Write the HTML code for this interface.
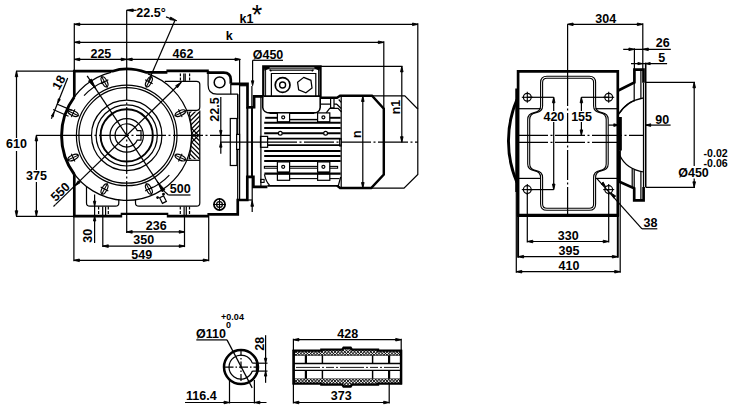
<!DOCTYPE html>
<html><head><meta charset="utf-8"><title>Gear motor dimension drawing</title>
<style>
html,body{margin:0;padding:0;background:#fff;}
body{width:738px;height:417px;overflow:hidden;}
svg{display:block;}
svg text{font-family:"Liberation Sans",Arial,Helvetica,sans-serif;font-weight:bold;fill:#000;stroke:none;}
</style></head>
<body>
<svg width="738" height="417" viewBox="0 0 738 417" fill="none" stroke="#000">
<rect x="0" y="0" width="738" height="417" fill="#fff" stroke="none" style="stroke:none"/>
<line x1="74.3" y1="23.3" x2="74.3" y2="70" stroke-width="1.22"/>
<line x1="74.3" y1="24.3" x2="418" y2="24.3" stroke-width="1.22"/>
<polygon points="74.3,24.3 79.8,23 79.8,25.6" fill="#000" stroke-width="0.9" stroke-linejoin="round"/>
<polygon points="418,24.3 412.5,25.6 412.5,23" fill="#000" stroke-width="0.9" stroke-linejoin="round"/>
<line x1="74.3" y1="42.3" x2="383.8" y2="42.3" stroke-width="1.22"/>
<polygon points="74.3,42.3 79.8,41 79.8,43.6" fill="#000" stroke-width="0.9" stroke-linejoin="round"/>
<polygon points="383.8,42.3 378.3,43.6 378.3,41" fill="#000" stroke-width="0.9" stroke-linejoin="round"/>
<line x1="74.3" y1="59.4" x2="239.5" y2="59.4" stroke-width="1.22"/>
<polygon points="74.3,59.4 79.8,58.1 79.8,60.7" fill="#000" stroke-width="0.9" stroke-linejoin="round"/>
<polygon points="126.7,59.4 121.2,60.7 121.2,58.1" fill="#000" stroke-width="0.9" stroke-linejoin="round"/>
<polygon points="126.7,59.4 132.2,58.1 132.2,60.7" fill="#000" stroke-width="0.9" stroke-linejoin="round"/>
<polygon points="240.5,59.4 235,60.7 235,58.1" fill="#000" stroke-width="0.9" stroke-linejoin="round"/>
<line x1="239.6" y1="59.4" x2="239.6" y2="200" stroke-width="1.22"/>
<line x1="383.8" y1="41.3" x2="383.8" y2="108" stroke-width="1.22"/>
<line x1="417.8" y1="23.3" x2="417.8" y2="109" stroke-width="1.22"/>
<line x1="126.7" y1="10.3" x2="126.7" y2="70" stroke-width="1.22"/>
<line x1="126.7" y1="70" x2="126.7" y2="204" stroke-width="1.22" stroke-dasharray="30 2.5 2 2.5"/>
<line x1="126.7" y1="204" x2="126.7" y2="232.9" stroke-width="1.22"/>
<line x1="126.7" y1="10.3" x2="136.5" y2="10.3" stroke-width="1.22"/>
<polygon points="126.7,10.3 133.2,9 133.2,11.6" fill="#000" stroke-width="0.9" stroke-linejoin="round"/>
<line x1="174.9" y1="20.6" x2="148.6" y2="81" stroke-width="1.22"/>
<polygon points="176.8,20.7 169.77,19.59 170.64,17.14" fill="#000" stroke-width="0.9" stroke-linejoin="round"/>
<line x1="166" y1="16.9" x2="171" y2="18.7" stroke-width="1.22"/>
<line x1="16" y1="71.2" x2="74.3" y2="71.2" stroke-width="1.22"/>
<line x1="16" y1="216.3" x2="74.3" y2="216.3" stroke-width="1.22"/>
<line x1="16.5" y1="71.2" x2="16.5" y2="138" stroke-width="1.22"/>
<line x1="16.5" y1="151" x2="16.5" y2="216.3" stroke-width="1.22"/>
<polygon points="16.5,71.2 17.8,76.7 15.2,76.7" fill="#000" stroke-width="0.9" stroke-linejoin="round"/>
<polygon points="16.5,216.3 15.2,210.8 17.8,210.8" fill="#000" stroke-width="0.9" stroke-linejoin="round"/>
<line x1="36.4" y1="135.4" x2="36.4" y2="170" stroke-width="1.22"/>
<line x1="36.4" y1="182" x2="36.4" y2="216.3" stroke-width="1.22"/>
<polygon points="36.4,135.4 37.7,140.9 35.1,140.9" fill="#000" stroke-width="0.9" stroke-linejoin="round"/>
<polygon points="36.4,216.3 35.1,210.8 37.7,210.8" fill="#000" stroke-width="0.9" stroke-linejoin="round"/>
<line x1="36" y1="135.4" x2="62" y2="135.4" stroke-width="1.22"/>
<line x1="62" y1="135.4" x2="230" y2="135.4" stroke-width="1.22" stroke-dasharray="30 2.5 2 2.5"/>
<path d="M147.86,73.94 A65,65 0 1 1 110.98,72.33" stroke-width="1.22" fill="none"/>
<circle cx="126.7" cy="135.4" r="50.3" stroke-width="1.22" fill="none"/>
<circle cx="126.7" cy="135.4" r="47.8" stroke-width="1.22" fill="none"/>
<circle cx="126.7" cy="135.4" r="35.2" stroke-width="1.22" fill="none"/>
<circle cx="126.7" cy="135.4" r="30.6" stroke-width="1.22" fill="none"/>
<circle cx="126.7" cy="135.4" r="26.1" stroke-width="1.95" fill="none"/>
<circle cx="126.7" cy="135.4" r="16.7" stroke-width="1.22" fill="none"/>
<path d="M137.31,130.7 A11.6,11.6 0 1 0 137.31,140.1 L141,140.1 L141,130.7 Z" stroke-width="1.22" fill="none"/>
<g transform="translate(180.29 157.6) rotate(25)"><ellipse rx="5.5" ry="2.5" stroke-width="1.15" fill="none"/><line x1="-6.4" y1="0" x2="6.4" y2="0" stroke-width="1.05"/><line x1="0" y1="-4.3" x2="0" y2="4.3" stroke-width="1.05"/></g>
<g transform="translate(148.9 188.99) rotate(62)"><ellipse rx="5.5" ry="2.5" stroke-width="1.15" fill="none"/><line x1="-6.4" y1="0" x2="6.4" y2="0" stroke-width="1.05"/><line x1="0" y1="-4.3" x2="0" y2="4.3" stroke-width="1.05"/></g>
<g transform="translate(104.5 188.99) rotate(118)"><ellipse rx="5.5" ry="2.5" stroke-width="1.15" fill="none"/><line x1="-6.4" y1="0" x2="6.4" y2="0" stroke-width="1.05"/><line x1="0" y1="-4.3" x2="0" y2="4.3" stroke-width="1.05"/></g>
<g transform="translate(73.11 157.6) rotate(155)"><ellipse rx="5.5" ry="2.5" stroke-width="1.15" fill="none"/><line x1="-6.4" y1="0" x2="6.4" y2="0" stroke-width="1.05"/><line x1="0" y1="-4.3" x2="0" y2="4.3" stroke-width="1.05"/></g>
<g transform="translate(73.11 113.2) rotate(205)"><ellipse rx="5.5" ry="2.5" stroke-width="1.15" fill="none"/><line x1="-6.4" y1="0" x2="6.4" y2="0" stroke-width="1.05"/><line x1="0" y1="-4.3" x2="0" y2="4.3" stroke-width="1.05"/></g>
<g transform="translate(104.5 81.81) rotate(242)"><ellipse rx="5.5" ry="2.5" stroke-width="1.15" fill="none"/><line x1="-6.4" y1="0" x2="6.4" y2="0" stroke-width="1.05"/><line x1="0" y1="-4.3" x2="0" y2="4.3" stroke-width="1.05"/></g>
<g transform="translate(148.9 81.81) rotate(298)"><ellipse rx="5.5" ry="2.5" stroke-width="1.15" fill="none"/><line x1="-6.4" y1="0" x2="6.4" y2="0" stroke-width="1.05"/><line x1="0" y1="-4.3" x2="0" y2="4.3" stroke-width="1.05"/></g>
<g transform="translate(180.29 113.2) rotate(335)"><ellipse rx="5.5" ry="2.5" stroke-width="1.15" fill="none"/><line x1="-6.4" y1="0" x2="6.4" y2="0" stroke-width="1.05"/><line x1="0" y1="-4.3" x2="0" y2="4.3" stroke-width="1.05"/></g>
<line x1="55.4" y1="204.6" x2="181.26" y2="82.21" stroke-width="1.22"/>
<polygon points="181.26,82.21 177.59,87.75 175.63,85.74" fill="#000" stroke-width="0.9" stroke-linejoin="round"/>
<polygon points="74.57,186.22 78.25,180.68 80.2,182.68" fill="#000" stroke-width="0.9" stroke-linejoin="round"/>
<line x1="55.4" y1="204.6" x2="53.5" y2="206.5" stroke-width="1.22"/>
<line x1="87.16" y1="75.83" x2="163.2" y2="190.39" stroke-width="1.22"/>
<polygon points="96.01,89.16 88.46,80.96 91.38,79.03" fill="#000" stroke-width="0.9" stroke-linejoin="round"/>
<polygon points="157.39,181.64 164.94,189.84 162.02,191.77" fill="#000" stroke-width="0.9" stroke-linejoin="round"/>
<path d="M84.06,95.64 A58.3,58.3 0 0 1 104.39,81.54" stroke-width="1.22" fill="none"/>
<path d="M169.34,175.16 A58.3,58.3 0 0 1 149.01,189.26" stroke-width="1.22" fill="none"/>
<line x1="163.2" y1="190.39" x2="168.4" y2="195" stroke-width="1.22"/>
<line x1="168.4" y1="195" x2="190.5" y2="195" stroke-width="1.22"/>
<g transform="translate(163 199.6) rotate(-27)"><rect x="-2.2" y="-3.1" width="4.4" height="6.2" stroke-width="1.2" fill="#fff"/></g>
<circle cx="157.6" cy="197.6" r="0.8" stroke-width="1.22" fill="#000"/>
<circle cx="163.5" cy="194.2" r="0.8" stroke-width="1.22" fill="#000"/>
<line x1="51.4" y1="118.8" x2="67.7" y2="78.1" stroke-width="1.22"/>
<line x1="56.8" y1="104" x2="71.9" y2="110.4" stroke-width="1.22"/>
<line x1="53.1" y1="109.5" x2="68.5" y2="116.2" stroke-width="1.22"/>
<polygon points="57.6,103.4 58.25,98.81 60.29,99.63" fill="#000" stroke-width="0.9" stroke-linejoin="round"/>
<polygon points="54,112.2 53.35,116.79 51.31,115.97" fill="#000" stroke-width="0.9" stroke-linejoin="round"/>
<path d="M74.3,97 L74.3,71.2 L112.5,71.2 Q127.5,66 146.5,72.4 L167.4,72.4 M166.4,70.8 L208.8,70.8" stroke-width="2.68" fill="none"/>
<path d="M208.1,71 L208.1,72.6 L223.6,72.6 Q230.8,72.6 230.8,79.8 L230.8,83.8" stroke-width="2.68" fill="none"/>
<path d="M230.8,83.8 L247.5,83.8 L247.5,107.3 L254.1,107.2 L254.1,96.4 L263.3,96.4" stroke-width="2.68" fill="none"/>
<path d="M74.3,97 A65,65 0 0 0 74.3,174.3" stroke-width="2.93" fill="none"/>
<path d="M74.3,174.3 L74.3,216.1 L122.2,216.1" stroke-width="2.68" fill="none"/>
<path d="M120.7,213.9 L168.3,213.9" stroke-width="2.44" fill="none"/>
<path d="M166.8,216.2 L209,216.2" stroke-width="2.68" fill="none"/>
<path d="M207.4,214.3 L237.75,214.3 L237.75,200 L247.3,200 L247.3,176.9 L253.4,176.9 L253.4,186.9 L267.4,186.9" stroke-width="2.68" fill="none"/>
<line x1="267.4" y1="185.8" x2="339" y2="185.8" stroke-width="1.83"/>
<circle cx="219.6" cy="82.4" r="5.4" stroke-width="1.52" fill="none"/>
<path d="M208.1,72.6 L208.1,85 Q208.1,94.2 217,94.2 L237.9,94.2" stroke-width="1.22" fill="none"/>
<line x1="230.8" y1="84" x2="230.8" y2="94.2" stroke-width="1.22"/>
<line x1="239.6" y1="85.7" x2="247" y2="85.7" stroke-width="1.22"/>
<path d="M237.7,94.2 L237.7,118.5 L230.3,118.5" stroke-width="1.22" fill="none"/>
<line x1="237.7" y1="94.2" x2="237.7" y2="200" stroke-width="1.22"/>
<rect x="230.3" y="118.5" width="6.6" height="47" stroke-width="1.22" fill="none"/>
<rect x="236.6" y="134.4" width="3" height="15" stroke-width="1.22" fill="#fff"/>
<path d="M164.8,81.4 L196.5,81.4 Q199.8,81.4 199.8,84.5 L199.8,107 Q199.8,110.4 196.5,110.4 L186.5,110.4" stroke-width="1.22" fill="none"/>
<path d="M199.8,110.4 L199.8,203 Q199.8,206.2 196.5,206.2 L139,206.2 Q135.5,206.2 135.5,203 L135.5,199.2" stroke-width="1.22" fill="none"/>
<path d="M86.5,186 L86.5,203 Q86.5,206.2 90,206.2 L115.5,206.2 Q118.8,206.2 118.8,203 L118.8,199.6" stroke-width="1.22" fill="none"/>
<line x1="187" y1="160.3" x2="199.8" y2="160.3" stroke-width="1.22"/>
<line x1="180.4" y1="73.5" x2="180.4" y2="81.4" stroke-width="1.22" stroke-dasharray="2.8 1.3"/>
<line x1="189.6" y1="73.5" x2="189.6" y2="81.4" stroke-width="1.22" stroke-dasharray="2.8 1.3"/>
<line x1="183.8" y1="73.5" x2="183.8" y2="81.4" stroke-width="1.22"/>
<line x1="185.2" y1="73.5" x2="185.2" y2="81.4" stroke-width="1.22"/>
<line x1="98.6" y1="206.6" x2="98.6" y2="215.2" stroke-width="1.22" stroke-dasharray="3 1.3"/>
<line x1="108.3" y1="206.6" x2="108.3" y2="215.2" stroke-width="1.22" stroke-dasharray="3 1.3"/>
<line x1="180.3" y1="206.6" x2="180.3" y2="215.2" stroke-width="1.22" stroke-dasharray="3 1.3"/>
<line x1="189.5" y1="206.6" x2="189.5" y2="215.2" stroke-width="1.22" stroke-dasharray="3 1.3"/>
<line x1="102.7" y1="206.6" x2="102.7" y2="215.2" stroke-width="1.22"/>
<line x1="105.6" y1="206.6" x2="105.6" y2="215.2" stroke-width="1.22"/>
<line x1="184.1" y1="206.6" x2="184.1" y2="215.2" stroke-width="1.22"/>
<line x1="186.3" y1="206.6" x2="186.3" y2="215.2" stroke-width="1.22"/>
<clipPath id="hc"><path d="M199.8,111.5 L199.8,159.3 L189,159.3 A111,111 0 0 0 189,111.5 Z"/></clipPath>
<g clip-path="url(#hc)">
<line x1="186" y1="147.9" x2="200.5" y2="133.4" stroke-width="1.34"/>
<line x1="186" y1="122.9" x2="200.5" y2="137.4" stroke-width="1.34"/>
<line x1="186" y1="143.4" x2="200.5" y2="128.9" stroke-width="1.34"/>
<line x1="186" y1="127.4" x2="200.5" y2="141.9" stroke-width="1.34"/>
<line x1="186" y1="138.9" x2="200.5" y2="124.4" stroke-width="1.34"/>
<line x1="186" y1="131.9" x2="200.5" y2="146.4" stroke-width="1.34"/>
<line x1="186" y1="134.4" x2="200.5" y2="119.9" stroke-width="1.34"/>
<line x1="186" y1="136.4" x2="200.5" y2="150.9" stroke-width="1.34"/>
<line x1="186" y1="129.9" x2="200.5" y2="115.4" stroke-width="1.34"/>
<line x1="186" y1="140.9" x2="200.5" y2="155.4" stroke-width="1.34"/>
<line x1="186" y1="125.4" x2="200.5" y2="110.9" stroke-width="1.34"/>
<line x1="186" y1="145.4" x2="200.5" y2="159.9" stroke-width="1.34"/>
<line x1="186" y1="120.9" x2="200.5" y2="106.4" stroke-width="1.34"/>
<line x1="186" y1="149.9" x2="200.5" y2="164.4" stroke-width="1.34"/>
<line x1="186" y1="116.4" x2="200.5" y2="101.9" stroke-width="1.34"/>
<line x1="186" y1="154.4" x2="200.5" y2="168.9" stroke-width="1.34"/>
</g>
<path d="M189,111.5 A111,111 0 0 1 189,159.3" stroke-width="1.1" fill="none"/>
<circle cx="219.5" cy="204.5" r="5.6" stroke-width="1.71" fill="none"/>
<circle cx="219.5" cy="204.5" r="2.9" stroke-width="1.22" fill="none"/>
<line x1="213" y1="204.5" x2="226" y2="204.5" stroke-width="1.1"/>
<line x1="219.5" y1="198" x2="219.5" y2="211" stroke-width="1.1"/>
<line x1="220.8" y1="97" x2="220.8" y2="153.7" stroke-width="1.22"/>
<polygon points="220.8,135.4 219.6,130.4 222,130.4" fill="#000" stroke-width="0.9" stroke-linejoin="round"/>
<polygon points="220.8,142.2 222,147.2 219.6,147.2" fill="#000" stroke-width="0.9" stroke-linejoin="round"/>
<line x1="220.4" y1="142.2" x2="267" y2="142.2" stroke-width="1.22"/>
<line x1="267" y1="142.2" x2="418" y2="142.2" stroke-width="1.22" stroke-dasharray="30 2.5 2 2.5"/>
<line x1="247.4" y1="107" x2="247.4" y2="177" stroke-width="1.95"/>
<line x1="252" y1="107" x2="252" y2="177" stroke-width="1.95"/>
<line x1="251.9" y1="86" x2="251.9" y2="107.3" stroke-width="1.22"/>
<line x1="252.6" y1="60.3" x2="283" y2="60.3" stroke-width="1.22"/>
<line x1="252.6" y1="60.3" x2="252.6" y2="83" stroke-width="1.22"/>
<polygon points="252.6,85.8 251.4,80.8 253.8,80.8" fill="#000" stroke-width="0.9" stroke-linejoin="round"/>
<line x1="252.2" y1="177" x2="252.2" y2="212" stroke-width="1.22"/>
<polygon points="252.2,200.8 253.5,206.3 250.9,206.3" fill="#000" stroke-width="0.9" stroke-linejoin="round"/>
<line x1="247.3" y1="200" x2="252.2" y2="200" stroke-width="1.22"/>
<line x1="240" y1="200.1" x2="247.3" y2="200.1" stroke-width="1.83"/>
<line x1="126.7" y1="231.9" x2="184.7" y2="231.9" stroke-width="1.22"/>
<polygon points="126.7,231.9 132.2,230.6 132.2,233.2" fill="#000" stroke-width="0.9" stroke-linejoin="round"/>
<polygon points="184.7,231.9 179.2,233.2 179.2,230.6" fill="#000" stroke-width="0.9" stroke-linejoin="round"/>
<line x1="102.8" y1="246.1" x2="184.7" y2="246.1" stroke-width="1.22"/>
<polygon points="102.8,246.1 108.3,244.8 108.3,247.4" fill="#000" stroke-width="0.9" stroke-linejoin="round"/>
<polygon points="184.7,246.1 179.2,247.4 179.2,244.8" fill="#000" stroke-width="0.9" stroke-linejoin="round"/>
<line x1="73.9" y1="260.3" x2="208.7" y2="260.3" stroke-width="1.22"/>
<polygon points="73.9,260.3 79.4,259 79.4,261.6" fill="#000" stroke-width="0.9" stroke-linejoin="round"/>
<polygon points="208.7,260.3 203.2,261.6 203.2,259" fill="#000" stroke-width="0.9" stroke-linejoin="round"/>
<line x1="73.9" y1="216" x2="73.9" y2="261.3" stroke-width="1.22"/>
<line x1="208.7" y1="216" x2="208.7" y2="261.3" stroke-width="1.22"/>
<line x1="102.8" y1="216" x2="102.8" y2="247.1" stroke-width="1.22"/>
<line x1="184.5" y1="216" x2="184.5" y2="247.1" stroke-width="1.22"/>
<line x1="94.6" y1="194.5" x2="94.6" y2="243" stroke-width="1.22"/>
<polygon points="94.6,206.2 93.4,201.2 95.8,201.2" fill="#000" stroke-width="0.9" stroke-linejoin="round"/>
<polygon points="94.6,216 95.8,221 93.4,221" fill="#000" stroke-width="0.9" stroke-linejoin="round"/>
<line x1="260.9" y1="96.2" x2="260.9" y2="186.5" stroke-width="1.22"/>
<path d="M263.3,96.2 L263.3,66.3 L320.5,66.3 L320.5,97" stroke-width="2.32" fill="none"/>
<line x1="320.5" y1="66.4" x2="402.5" y2="66.4" stroke-width="1.22"/>
<line x1="265.6" y1="67" x2="265.6" y2="96.2" stroke-width="0.98"/>
<line x1="318.6" y1="67" x2="318.6" y2="96.2" stroke-width="0.98"/>
<line x1="265.6" y1="68.8" x2="318.6" y2="68.8" stroke-width="0.98"/>
<line x1="270.9" y1="70.2" x2="312.2" y2="70.2" stroke-width="1.1"/>
<path d="M264.5,67.6 L269.5,67.6 L265,69.8 Z M319.5,67.6 L314.5,67.6 L319,69.8 Z" stroke-width="1.22" fill="#000"/>
<path d="M269.6,69.6 L271.4,71.2 M313.5,69.6 L311.7,71.2" stroke-width="1.46" fill="none"/>
<path d="M271.4,96.2 L271.4,73.5 L315.8,73.5 L315.8,96.2" stroke-width="1.22" fill="none"/>
<circle cx="282.6" cy="85" r="7.4" stroke-width="1.71" fill="none"/>
<circle cx="282.6" cy="85" r="3" stroke-width="1.34" fill="none"/>
<polygon points="303.71,77.38 310.95,80.3 312.03,88.02 305.89,92.82 298.65,89.9 297.57,82.18" stroke-width="1.25" fill="none"/>
<line x1="263.3" y1="96.1" x2="320.5" y2="96.1" stroke-width="1.83"/>
<path d="M262.7,96.8 L262.7,107.5 Q263.5,112.9 270,112.9 L314,112.9 Q319.6,112.9 320.2,107.5 L320.2,96.8" stroke-width="1.59" fill="none"/>
<line x1="269.7" y1="112.9" x2="314" y2="112.9" stroke-width="1.95"/>
<rect x="277.4" y="112.9" width="12.2" height="8.9" stroke-width="1.22" fill="#fff"/>
<circle cx="283.2" cy="117.3" r="1.5" stroke-width="1.22" fill="none"/>
<rect x="317.6" y="112.9" width="12.2" height="8.9" stroke-width="1.22" fill="#fff"/>
<circle cx="323.4" cy="117.3" r="1.5" stroke-width="1.22" fill="none"/>
<line x1="289.6" y1="119.6" x2="317.6" y2="119.6" stroke-width="1.46"/>
<line x1="265.2" y1="117.8" x2="277.4" y2="117.8" stroke-width="1.95"/>
<line x1="329.8" y1="117.8" x2="340.7" y2="117.8" stroke-width="1.95"/>
<line x1="264.2" y1="122.8" x2="340.7" y2="122.8" stroke-width="1.95"/>
<line x1="264.2" y1="128" x2="340.7" y2="128" stroke-width="1.95"/>
<line x1="264.2" y1="133.3" x2="340.7" y2="133.3" stroke-width="1.95"/>
<circle cx="280.3" cy="133.3" r="1.9" stroke-width="1.22" fill="#fff"/>
<circle cx="325.6" cy="133.3" r="1.9" stroke-width="1.22" fill="#fff"/>
<line x1="267.6" y1="138.7" x2="340.7" y2="138.7" stroke-width="1.83"/>
<line x1="267.6" y1="145.1" x2="340.7" y2="145.1" stroke-width="1.83"/>
<rect x="260.5" y="136.4" width="7.1" height="10.9" stroke-width="1.22" fill="none"/>
<rect x="339.6" y="138.7" width="1.6" height="7.4" stroke-width="0.98" fill="none"/>
<line x1="264.2" y1="151" x2="340.7" y2="151" stroke-width="1.95"/>
<line x1="264.2" y1="156" x2="340.7" y2="156" stroke-width="1.95"/>
<line x1="264.2" y1="160.9" x2="340.7" y2="160.9" stroke-width="1.95"/>
<rect x="264.4" y="166.4" width="73.2" height="1.8" stroke-width="1.1" fill="none"/>
<line x1="264.4" y1="173.6" x2="340.7" y2="173.6" stroke-width="2.2"/>
<rect x="277.4" y="161.9" width="12.2" height="10.2" stroke-width="1.22" fill="#fff"/>
<circle cx="283.2" cy="166.8" r="1.5" stroke-width="1.22" fill="none"/>
<line x1="277.4" y1="172.9" x2="289.6" y2="172.9" stroke-width="2.2"/>
<rect x="277.4" y="174.2" width="12.2" height="6.1" stroke-width="1.22" fill="#fff"/>
<rect x="317.6" y="161.9" width="12.2" height="10.2" stroke-width="1.22" fill="#fff"/>
<circle cx="323.4" cy="166.8" r="1.5" stroke-width="1.22" fill="none"/>
<line x1="317.6" y1="172.9" x2="329.8" y2="172.9" stroke-width="2.2"/>
<rect x="317.6" y="174.2" width="12.2" height="6.1" stroke-width="1.22" fill="#fff"/>
<line x1="289.6" y1="178.6" x2="317.6" y2="178.6" stroke-width="1.1"/>
<line x1="329.8" y1="178.6" x2="339.5" y2="178.6" stroke-width="1.1"/>
<path d="M264.4,174.4 Q266,182 269.5,185 M340.7,177 L338.5,185" stroke-width="1.22" fill="none"/>
<rect x="260.7" y="179.4" width="3.4" height="3" stroke-width="1.1" fill="none"/>
<path d="M320,104.2 L330.6,104.2 M334,104.2 L337,104.2 M330.6,97.6 L330.6,107.9 L334,107.9 L334,97.6 M326.2,112.9 L329.7,108.3 L338.1,108.3 L341.5,112 M336.8,104.2 L341.2,108.5 M338.7,99.5 L341.2,102.3" stroke-width="1.22" fill="none"/>
<line x1="341.2" y1="96" x2="341.2" y2="188" stroke-width="1.22"/>
<path d="M321,97.8 L337,97.8 L340.1,95.8 L372,95.8 L383.8,108.7 L383.8,174.5 L371.2,188 L340.1,188 L337,185.6" stroke-width="2.44" fill="none"/>
<path d="M372,95.8 L404.8,95.8 L417.8,109 L417.8,174.5 L404,188.2 L371.2,188.2" stroke-width="1.22" fill="none"/>
<line x1="362.8" y1="96" x2="362.8" y2="188" stroke-width="1.22"/>
<polygon points="362.8,96 364.1,101.5 361.5,101.5" fill="#000" stroke-width="0.9" stroke-linejoin="round"/>
<polygon points="362.8,188 361.5,182.5 364.1,182.5" fill="#000" stroke-width="0.9" stroke-linejoin="round"/>
<line x1="401.8" y1="66.4" x2="401.8" y2="142.2" stroke-width="1.22"/>
<polygon points="401.8,66.4 403.1,71.9 400.5,71.9" fill="#000" stroke-width="0.9" stroke-linejoin="round"/>
<polygon points="401.8,142.2 400.5,136.7 403.1,136.7" fill="#000" stroke-width="0.9" stroke-linejoin="round"/>
<path d="M518.1,216 L518.1,71.4 L617.8,71.4 L617.8,216" stroke-width="2.68" fill="none"/>
<line x1="517" y1="215.3" x2="619" y2="215.3" stroke-width="3.17"/>
<line x1="516.6" y1="88.5" x2="516.6" y2="192" stroke-width="2.68"/>
<path d="M517,99.5 A105,105 0 0 0 517,182.5" stroke-width="2.93" fill="none"/>
<line x1="567.6" y1="24.3" x2="567.6" y2="76" stroke-width="1.22"/>
<line x1="567.6" y1="76" x2="567.6" y2="215" stroke-width="1.22" stroke-dasharray="30 2.5 2 2.5"/>
<line x1="518" y1="135.4" x2="643.5" y2="135.4" stroke-width="1.22" stroke-dasharray="30 2.5 2 2.5"/>
<line x1="518" y1="142.3" x2="617" y2="142.3" stroke-width="1.22" stroke-dasharray="30 2.5 2 2.5"/>
<path d="M546.9,76.3 L589.3,76.3 Q595.6,76.3 595.6,82.6 L595.6,106 Q595.6,111.5 601.9,112.6 Q608.2,113.7 608.2,119.5 L608.2,164 Q608.2,169.5 601.9,170.6 Q595.6,171.7 595.6,177.5 L595.6,203.9 Q595.6,210.2 589.3,210.2 L546.9,210.2 Q540.6,210.2 540.6,203.9 L540.6,177.5 Q540.6,171.7 534.15,170.6 Q527.7,169.5 527.7,164 L527.7,119.5 Q527.7,113.7 534.15,112.6 Q540.6,111.5 540.6,106 L540.6,82.6 Q540.6,76.3 546.9,76.3 Z" stroke-width="1.1" fill="none"/>
<path d="M546.9,78.3 L589.3,78.3 Q593.6,78.3 593.6,82.6 L593.6,106 Q593.6,111.5 599.9,112.6 Q606.2,113.7 606.2,119.5 L606.2,164 Q606.2,169.5 599.9,170.6 Q593.6,171.7 593.6,177.5 L593.6,203.9 Q593.6,208.2 589.3,208.2 L546.9,208.2 Q542.6,208.2 542.6,203.9 L542.6,177.5 Q542.6,171.7 536.15,170.6 Q529.7,169.5 529.7,164 L529.7,119.5 Q529.7,113.7 536.15,112.6 Q542.6,111.5 542.6,106 L542.6,82.6 Q542.6,78.3 546.9,78.3 Z" stroke-width="1.1" fill="none"/>
<line x1="518" y1="108.7" x2="540.6" y2="108.7" stroke-width="1.22"/>
<line x1="595.6" y1="108.7" x2="618" y2="108.7" stroke-width="1.22"/>
<line x1="518" y1="178.4" x2="540.6" y2="178.4" stroke-width="1.22"/>
<line x1="595.6" y1="178.4" x2="618" y2="178.4" stroke-width="1.22"/>
<circle cx="527.3" cy="97.3" r="3.9" stroke-width="1.22" fill="none"/>
<line x1="521.8" y1="97.3" x2="532.8" y2="97.3" stroke-width="1.1"/>
<line x1="527.3" y1="91.8" x2="527.3" y2="102.8" stroke-width="1.1"/>
<circle cx="527.3" cy="189.6" r="3.9" stroke-width="1.22" fill="none"/>
<line x1="521.8" y1="189.6" x2="532.8" y2="189.6" stroke-width="1.1"/>
<line x1="527.3" y1="184.1" x2="527.3" y2="195.1" stroke-width="1.1"/>
<circle cx="608.7" cy="97.3" r="3.9" stroke-width="1.22" fill="none"/>
<line x1="603.2" y1="97.3" x2="614.2" y2="97.3" stroke-width="1.1"/>
<line x1="608.7" y1="91.8" x2="608.7" y2="102.8" stroke-width="1.1"/>
<circle cx="608.7" cy="189.6" r="3.9" stroke-width="1.22" fill="none"/>
<line x1="603.2" y1="189.6" x2="614.2" y2="189.6" stroke-width="1.1"/>
<line x1="608.7" y1="184.1" x2="608.7" y2="195.1" stroke-width="1.1"/>
<line x1="527.3" y1="97.3" x2="553.7" y2="97.3" stroke-width="1.22"/>
<line x1="527.3" y1="189.6" x2="553.7" y2="189.6" stroke-width="1.22"/>
<line x1="553.7" y1="97.3" x2="553.7" y2="111" stroke-width="1.22"/>
<line x1="553.7" y1="122" x2="553.7" y2="189.6" stroke-width="1.22"/>
<polygon points="553.7,97.3 555,102.8 552.4,102.8" fill="#000" stroke-width="0.9" stroke-linejoin="round"/>
<polygon points="553.7,189.6 552.4,184.1 555,184.1" fill="#000" stroke-width="0.9" stroke-linejoin="round"/>
<line x1="608.7" y1="97.3" x2="581.4" y2="97.3" stroke-width="1.22"/>
<line x1="581.4" y1="97.3" x2="581.4" y2="111" stroke-width="1.22"/>
<line x1="581.4" y1="122" x2="581.4" y2="135.4" stroke-width="1.22"/>
<polygon points="581.4,97.3 582.7,102.8 580.1,102.8" fill="#000" stroke-width="0.9" stroke-linejoin="round"/>
<polygon points="581.4,135.4 580.1,129.9 582.7,129.9" fill="#000" stroke-width="0.9" stroke-linejoin="round"/>
<line x1="527.3" y1="193" x2="527.3" y2="242.5" stroke-width="1.22"/>
<line x1="608.7" y1="193" x2="608.7" y2="242.5" stroke-width="1.22"/>
<line x1="527.3" y1="241.5" x2="608.7" y2="241.5" stroke-width="1.22"/>
<polygon points="527.3,241.5 532.8,240.2 532.8,242.8" fill="#000" stroke-width="0.9" stroke-linejoin="round"/>
<polygon points="608.7,241.5 603.2,242.8 603.2,240.2" fill="#000" stroke-width="0.9" stroke-linejoin="round"/>
<line x1="518.1" y1="216" x2="518.1" y2="257.7" stroke-width="1.95"/>
<line x1="617.8" y1="216" x2="617.8" y2="257.7" stroke-width="1.95"/>
<line x1="518.1" y1="256.7" x2="617.8" y2="256.7" stroke-width="1.22"/>
<polygon points="518.1,256.7 523.6,255.4 523.6,258" fill="#000" stroke-width="0.9" stroke-linejoin="round"/>
<polygon points="617.8,256.7 612.3,258 612.3,255.4" fill="#000" stroke-width="0.9" stroke-linejoin="round"/>
<line x1="516.3" y1="180" x2="516.3" y2="272.7" stroke-width="1.22"/>
<line x1="620.2" y1="150" x2="620.2" y2="272.7" stroke-width="1.22"/>
<line x1="516.3" y1="271.7" x2="620.2" y2="271.7" stroke-width="1.22"/>
<polygon points="516.3,271.7 521.8,270.4 521.8,273" fill="#000" stroke-width="0.9" stroke-linejoin="round"/>
<polygon points="620.2,271.7 614.7,273 614.7,270.4" fill="#000" stroke-width="0.9" stroke-linejoin="round"/>
<line x1="567.6" y1="24.3" x2="642.8" y2="24.3" stroke-width="1.22"/>
<polygon points="567.6,24.3 573.1,23 573.1,25.6" fill="#000" stroke-width="0.9" stroke-linejoin="round"/>
<polygon points="642.8,24.3 637.3,25.6 637.3,23" fill="#000" stroke-width="0.9" stroke-linejoin="round"/>
<line x1="642.8" y1="23.3" x2="642.8" y2="69" stroke-width="1.22"/>
<line x1="623.2" y1="49.3" x2="670.8" y2="49.3" stroke-width="1.22"/>
<polygon points="634.4,49.3 628.9,50.6 628.9,48" fill="#000" stroke-width="0.9" stroke-linejoin="round"/>
<polygon points="642.8,49.3 648.3,48 648.3,50.6" fill="#000" stroke-width="0.9" stroke-linejoin="round"/>
<line x1="634.4" y1="48.3" x2="634.4" y2="69" stroke-width="1.22"/>
<line x1="631" y1="63.6" x2="667.1" y2="63.6" stroke-width="1.22"/>
<polygon points="642.4,63.6 637.9,64.7 637.9,62.5" fill="#000" stroke-width="0.9" stroke-linejoin="round"/>
<polygon points="645.7,63.6 650.2,62.5 650.2,64.7" fill="#000" stroke-width="0.9" stroke-linejoin="round"/>
<line x1="645.7" y1="62.6" x2="645.7" y2="187.2" stroke-width="1.59"/>
<path d="M617.8,90.8 L634.4,82.4 L634.4,69.7 L643.5,69.7 L643.5,82.7" stroke-width="2.68" fill="none"/>
<line x1="643.5" y1="82.7" x2="643.5" y2="187" stroke-width="1.22"/>
<line x1="640.9" y1="70" x2="640.9" y2="98.8" stroke-width="1.22"/>
<line x1="634.2" y1="82" x2="634.2" y2="101.5" stroke-width="1.22"/>
<path d="M617.8,115.4 Q626,101 643.7,97.8" stroke-width="1.22" fill="none"/>
<path d="M620,112.3 Q627,102.5 634.2,100.5" stroke-width="1.22" fill="none"/>
<line x1="619.9" y1="117" x2="619.9" y2="150.5" stroke-width="3.9"/>
<line x1="619.4" y1="150.5" x2="619.4" y2="181" stroke-width="1.95"/>
<path d="M619.9,155.5 Q626,169 643.7,172" stroke-width="1.22" fill="none"/>
<line x1="634.2" y1="169.5" x2="634.2" y2="188" stroke-width="1.22"/>
<line x1="632.2" y1="168.6" x2="632.2" y2="187" stroke-width="1.22"/>
<line x1="640.9" y1="171.6" x2="640.9" y2="200" stroke-width="1.22"/>
<path d="M617.8,181 L634.2,188.3 L634.2,200.4 L643.6,200.4 L643.6,187" stroke-width="2.68" fill="none"/>
<line x1="608.5" y1="125.1" x2="617.8" y2="125.1" stroke-width="1.22"/>
<line x1="645.7" y1="125.1" x2="670.6" y2="125.1" stroke-width="1.22"/>
<polygon points="618.8,125.1 613.8,126.4 613.8,123.8" fill="#000" stroke-width="0.9" stroke-linejoin="round"/>
<polygon points="645.7,125.1 650.7,123.8 650.7,126.4" fill="#000" stroke-width="0.9" stroke-linejoin="round"/>
<line x1="645.7" y1="82.3" x2="695" y2="82.3" stroke-width="1.22"/>
<line x1="645.7" y1="187.3" x2="695" y2="187.3" stroke-width="1.22"/>
<line x1="694.2" y1="82.3" x2="694.2" y2="166" stroke-width="1.22"/>
<line x1="694.2" y1="178.5" x2="694.2" y2="187.3" stroke-width="1.22"/>
<polygon points="694.2,82.3 695.5,87.8 692.9,87.8" fill="#000" stroke-width="0.9" stroke-linejoin="round"/>
<polygon points="694.2,187.3 692.9,181.8 695.5,181.8" fill="#000" stroke-width="0.9" stroke-linejoin="round"/>
<line x1="596.7" y1="178.4" x2="642" y2="228.8" stroke-width="1.22"/>
<line x1="642" y1="228.8" x2="657.3" y2="228.8" stroke-width="1.22"/>
<polygon points="605.79,187.1 601.08,183.94 603.16,182.07" fill="#000" stroke-width="0.9" stroke-linejoin="round"/>
<polygon points="611.01,192.9 615.72,196.06 613.64,197.93" fill="#000" stroke-width="0.9" stroke-linejoin="round"/>
<circle cx="241" cy="367.1" r="17" stroke-width="2.5" fill="none"/>
<path d="M252.33,363.15 A12,12 0 1 0 252.33,371.05 M252.33,363.15 L256.4,363.15 M252.33,371.05 L256.4,371.05" stroke-width="1.22" fill="none"/>
<line x1="256.4" y1="363.2" x2="256.4" y2="371.1" stroke-width="1.22"/>
<line x1="241" y1="349" x2="241" y2="385" stroke-width="1.22" stroke-dasharray="7 2 1.5 2"/>
<line x1="224.5" y1="367.1" x2="258" y2="367.1" stroke-width="1.22" stroke-dasharray="9 2 1.5 2"/>
<line x1="196.3" y1="339.9" x2="227" y2="339.9" stroke-width="1.22"/>
<line x1="227" y1="339.9" x2="252.2" y2="387.9" stroke-width="1.22"/>
<line x1="265.6" y1="335.2" x2="265.6" y2="382.8" stroke-width="1.22"/>
<line x1="256.4" y1="363.2" x2="267.5" y2="363.2" stroke-width="1.22"/>
<line x1="256.4" y1="371.1" x2="267.5" y2="371.1" stroke-width="1.22"/>
<polygon points="265.6,363.2 264.4,358.2 266.8,358.2" fill="#000" stroke-width="0.9" stroke-linejoin="round"/>
<polygon points="265.6,371.1 266.8,376.1 264.4,376.1" fill="#000" stroke-width="0.9" stroke-linejoin="round"/>
<line x1="185" y1="402.5" x2="266.5" y2="402.5" stroke-width="1.22"/>
<line x1="229.5" y1="380" x2="229.5" y2="403.5" stroke-width="1.22"/>
<line x1="254.4" y1="380" x2="254.4" y2="403.5" stroke-width="1.22"/>
<polygon points="229.5,402.5 224,403.8 224,401.2" fill="#000" stroke-width="0.9" stroke-linejoin="round"/>
<polygon points="254.4,402.5 259.9,401.2 259.9,403.8" fill="#000" stroke-width="0.9" stroke-linejoin="round"/>
<pattern id="xh" width="2.3" height="2.3" patternUnits="userSpaceOnUse" patternTransform="rotate(45)"><rect width="2.3" height="2.3" fill="#fff" stroke="none" style="stroke:none"/><path d="M0,0.4 L2.3,0.4 M0.4,0 L0.4,2.3" stroke="#111" stroke-width="0.9" style="stroke:#111"/></pattern>
<path d="M293.7,350.6 L321.4,350.6 L321.4,349.6 L342.2,349.6 L343.6,347.7 L350.6,347.7 L352,349.6 L378,349.6 L378,350.6 L401,350.6 L401,383.6 L378,383.6 L378,384.6 L352,384.6 L350.6,386.5 L343.6,386.5 L342.2,384.6 L321.4,384.6 L321.4,383.6 L293.7,383.6 Z" fill="url(#xh)" stroke-width="2.4"/>
<rect x="294.6" y="355.4" width="105.5" height="23.4" fill="#fff" stroke="none" style="stroke:none"/>
<line x1="294" y1="355.4" x2="400.6" y2="355.4" stroke-width="0.61"/>
<line x1="294" y1="378.8" x2="400.6" y2="378.8" stroke-width="0.61"/>
<line x1="293.7" y1="350" x2="293.7" y2="384.2" stroke-width="2.32"/>
<line x1="401" y1="350" x2="401" y2="384.2" stroke-width="2.32"/>
<line x1="293.7" y1="363.5" x2="401" y2="363.5" stroke-width="1.4"/>
<line x1="293.7" y1="370.4" x2="401" y2="370.4" stroke-width="1.4"/>
<line x1="296" y1="367.4" x2="399" y2="367.4" stroke-width="0.92" stroke-dasharray="24 2 2 2 8 2 2 2"/>
<line x1="305.9" y1="355.4" x2="305.9" y2="363.5" stroke-width="2.2"/>
<line x1="305.9" y1="370.4" x2="305.9" y2="378.8" stroke-width="2.2"/>
<line x1="322.4" y1="355.4" x2="322.4" y2="363.5" stroke-width="1.46"/>
<line x1="322.4" y1="370.4" x2="322.4" y2="378.8" stroke-width="1.46"/>
<line x1="372.6" y1="355.4" x2="372.6" y2="363.5" stroke-width="1.46"/>
<line x1="372.6" y1="370.4" x2="372.6" y2="378.8" stroke-width="1.46"/>
<line x1="389.1" y1="355.4" x2="389.1" y2="363.5" stroke-width="2.2"/>
<line x1="389.1" y1="370.4" x2="389.1" y2="378.8" stroke-width="2.2"/>
<line x1="293.4" y1="338.7" x2="293.4" y2="351" stroke-width="1.22"/>
<line x1="401.2" y1="338.7" x2="401.2" y2="351" stroke-width="1.22"/>
<line x1="293.4" y1="339.7" x2="401.2" y2="339.7" stroke-width="1.22"/>
<polygon points="293.4,339.7 298.9,338.4 298.9,341" fill="#000" stroke-width="0.9" stroke-linejoin="round"/>
<polygon points="401.2,339.7 395.7,341 395.7,338.4" fill="#000" stroke-width="0.9" stroke-linejoin="round"/>
<line x1="293.4" y1="383.3" x2="293.4" y2="403.5" stroke-width="1.22"/>
<line x1="389.2" y1="383.3" x2="389.2" y2="403.5" stroke-width="1.22"/>
<line x1="293.4" y1="402.5" x2="389.2" y2="402.5" stroke-width="1.22"/>
<polygon points="293.4,402.5 298.9,401.2 298.9,403.8" fill="#000" stroke-width="0.9" stroke-linejoin="round"/>
<polygon points="389.2,402.5 383.7,403.8 383.7,401.2" fill="#000" stroke-width="0.9" stroke-linejoin="round"/>
<text x="151" y="17.1" font-size="12.5" text-anchor="middle">22.5°</text>
<text x="246.5" y="23" font-size="12.5" text-anchor="middle">k1</text>
<text x="257.1" y="24.2" font-size="27" text-anchor="middle" style="font-weight:normal">*</text>
<text x="229.3" y="40" font-size="12.5" text-anchor="middle">k</text>
<text x="100.9" y="57.8" font-size="12.5" text-anchor="middle">225</text>
<text x="183" y="57.8" font-size="12.5" text-anchor="middle">462</text>
<text x="268" y="59" font-size="12.5" text-anchor="middle">Ø450</text>
<text x="16.5" y="148.2" font-size="12.5" text-anchor="middle">610</text>
<text x="36.5" y="180" font-size="12.5" text-anchor="middle">375</text>
<text x="63.2" y="194.8" font-size="12.5" text-anchor="middle" transform="rotate(-44.27060648270458 63.2 194.8)">550</text>
<text x="180.3" y="192.9" font-size="12.5" text-anchor="middle">500</text>
<text x="156.2" y="230.2" font-size="12.5" text-anchor="middle">236</text>
<text x="143.7" y="243.9" font-size="12.5" text-anchor="middle">350</text>
<text x="141.7" y="259.2" font-size="12.5" text-anchor="middle">549</text>
<text x="92.4" y="235.7" font-size="12.5" text-anchor="middle" transform="rotate(-90 92.4 235.7)">30</text>
<text x="219.2" y="109.5" font-size="12.5" text-anchor="middle" transform="rotate(-90 219.2 109.5)">22.5</text>
<text x="62.4" y="84.6" font-size="12.5" text-anchor="middle" transform="rotate(-60 62.4 84.6)">18</text>
<text x="361" y="134.2" font-size="12.5" text-anchor="middle" transform="rotate(-90 361 134.2)">n</text>
<text x="400.3" y="107" font-size="12.5" text-anchor="middle" transform="rotate(-90 400.3 107)">n1</text>
<text x="605.7" y="22.8" font-size="12.5" text-anchor="middle">304</text>
<text x="662.7" y="46.9" font-size="12.5" text-anchor="middle">26</text>
<text x="661.7" y="61.7" font-size="12.5" text-anchor="middle">5</text>
<text x="662.2" y="123.9" font-size="12.5" text-anchor="middle">90</text>
<text x="553.9" y="120.9" font-size="12.5" text-anchor="middle">420</text>
<text x="581.6" y="120.9" font-size="12.5" text-anchor="middle">155</text>
<text x="568.2" y="240.1" font-size="12.5" text-anchor="middle">330</text>
<text x="569" y="255.2" font-size="12.5" text-anchor="middle">395</text>
<text x="569" y="270.2" font-size="12.5" text-anchor="middle">410</text>
<text x="650.5" y="226.9" font-size="12.5" text-anchor="middle">38</text>
<text x="693.5" y="176.8" font-size="12.5" text-anchor="middle">Ø450</text>
<text x="715.6" y="156.8" font-size="10.6" text-anchor="middle">-0.02</text>
<text x="715.6" y="166.8" font-size="10.6" text-anchor="middle">-0.06</text>
<text x="232.5" y="320.2" font-size="9" text-anchor="middle">+0.04</text>
<text x="228.5" y="327.8" font-size="9" text-anchor="middle">0</text>
<text x="211" y="337.8" font-size="12.5" text-anchor="middle">Ø110</text>
<text x="263.6" y="343.8" font-size="12.5" text-anchor="middle" transform="rotate(-90 263.6 343.8)">28</text>
<text x="201.4" y="400.2" font-size="12.5" text-anchor="middle">116.4</text>
<text x="347.7" y="338.1" font-size="12.5" text-anchor="middle">428</text>
<text x="341.3" y="400.2" font-size="12.5" text-anchor="middle">373</text>
</svg>
</body></html>
